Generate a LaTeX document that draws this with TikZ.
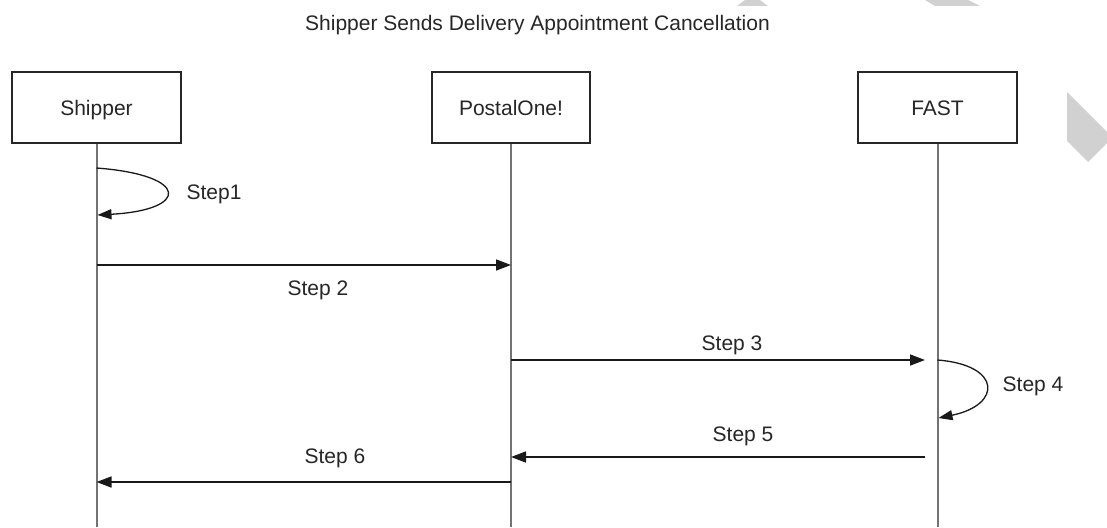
\documentclass[tikz,border=0pt]{standalone}
\usepackage{fontspec}
\setmainfont{Liberation Sans}
\usetikzlibrary{arrows.meta}
\tikzset{
  actor/.style={draw=black!85, line width=1.6pt, fill=white, inner sep=0pt,
    text height=15pt, text depth=0pt, minimum height=71pt, font=\fontsize{21}{24}\selectfont, text=black!85},
  lifeline/.style={draw=black!55, line width=2pt},
  msg/.style={draw=black!90, line width=1.6pt, -{Triangle[length=15pt,width=11pt]}},
  lbl/.style={inner sep=0pt, anchor=base, font=\fontsize{21}{24}\selectfont, text=black!85},
  wm/.style={fill=black!18, draw=none}
}
\begin{document}
\begin{tikzpicture}[x=1pt,y=-1pt]
\useasboundingbox (0,0) rectangle (1107,527);
% watermark shapes
\fill[wm] (745,0) -- (760,0) -- (768,6) -- (737,6) -- cycle;
\fill[wm] (925,0) -- (968,0) -- (980,6) -- (935,6) -- cycle;
\fill[wm] (1067,92) -- (1107,132) -- (1107,143) -- (1088,162) -- (1067,141) -- cycle;
% title
\node[lbl] (title) at (537.5,31) {Shipper Sends Delivery Appointment Cancellation};
% actors
\node[actor, minimum width=169pt] (shipper) at (96.5,107.5) {Shipper};
\node[actor, minimum width=158pt] (postal) at (511,107.5) {PostalOne!};
\node[actor, minimum width=159pt] (fast) at (937.5,107.5) {FAST};
% lifeline ends
\coordinate (shipEnd) at (96.5,527);
\coordinate (postEnd) at (511,527);
\coordinate (fastEnd) at (937.5,527);
\draw[lifeline] (shipper.south) -- (shipEnd);
\draw[lifeline] (postal.south) -- (postEnd);
\draw[lifeline] (fast.south) -- (fastEnd);
% message points
\coordinate (s1a) at (96.5,168);
\coordinate (s1b) at (97.5,215);
\coordinate (s2a) at (96.5,265);
\coordinate (s2b) at (511,265);
\coordinate (s3a) at (511,360);
\coordinate (s3b) at (925,360);
\coordinate (s4a) at (937.5,360);
\coordinate (s4b) at (938.5,418);
\coordinate (s5a) at (925,457);
\coordinate (s5b) at (511,457);
\coordinate (s6a) at (511,482);
\coordinate (s6b) at (96.5,482);
% messages
\draw[msg, line width=1.3pt, -{Triangle[length=14pt,width=10pt]}] (s1a) .. controls (190,175) and (190,210) .. (s1b);
\draw[msg] (s2a) -- (s2b);
\draw[msg] (s3a) -- (s3b);
\draw[msg, line width=1.3pt, -{Triangle[length=14pt,width=10pt]}] (s4a) .. controls (1002,365) and (1002,405) .. (s4b);
\draw[msg] (s5a) -- (s5b);
\draw[msg] (s6a) -- (s6b);
% labels
\node[lbl] (l1) at (214,199) {Step1};
\node[lbl] (l2) at (318,295) {Step 2};
\node[lbl] (l3) at (732,350) {Step 3};
\node[lbl] (l4) at (1033,391) {Step 4};
\node[lbl] (l5) at (743,441) {Step 5};
\node[lbl] (l6) at (335,463) {Step 6};
\end{tikzpicture}
\end{document}
